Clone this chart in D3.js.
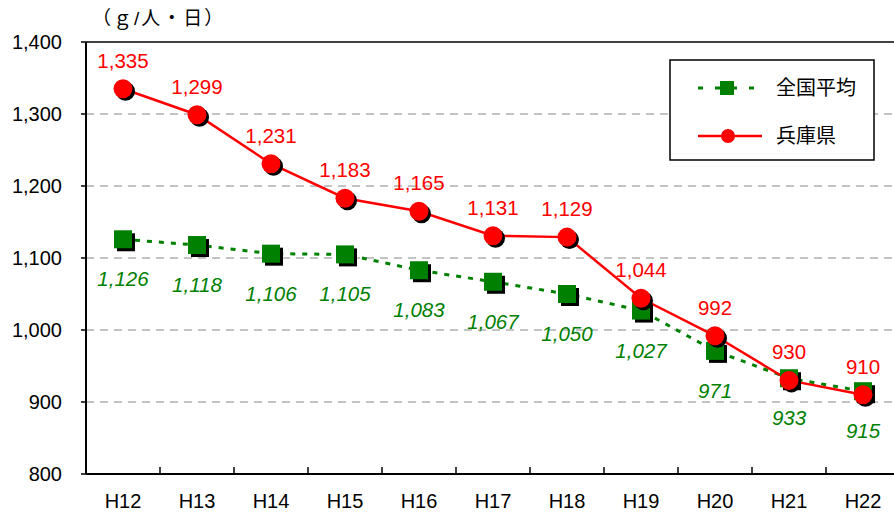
<!DOCTYPE html>
<html>
<head>
<meta charset="utf-8">
<script src="https://cdn.jsdelivr.net/npm/d3@7"></script>
<style>
  body { margin: 0; background: #fff; }
  svg text { font-family: "Liberation Sans", Arial, "Noto Sans CJK JP", sans-serif; }
</style>
</head>
<body>
<svg id="chart"></svg>
<script>
const years = ["H12", "H13", "H14", "H15", "H16", "H17", "H18", "H19", "H20", "H21", "H22"];
const national = [1126, 1118, 1106, 1105, 1083, 1067, 1050, 1027, 971, 933, 915];
const hyogo = [1335, 1299, 1231, 1183, 1165, 1131, 1129, 1044, 992, 930, 910];
const yTicks = [800, 900, 1000, 1100, 1200, 1300, 1400];

const W = 894, H = 518;
const margin = {top: 42, right: -6, bottom: 44, left: 86};
const width = W - margin.left - margin.right, height = H - margin.top - margin.bottom;

const svg = d3.select("#chart").attr("width", W).attr("height", H);
const g = svg.append("g").attr("transform", "translate(" + margin.left + "," + margin.top + ")");

const x = d3.scaleBand().domain(years).range([0, width]);
const y = d3.scaleLinear().domain([800, 1400]).range([height, 0]);
const cx = d => x(d) + x.bandwidth() / 2;

// gridlines
g.selectAll("line.grid").data(yTicks.filter(t => t > 800 && t < 1400)).enter()
  .append("line").attr("class", "grid")
  .attr("x1", 0).attr("x2", width)
  .attr("y1", d => y(d)).attr("y2", d => y(d))
  .attr("stroke", "#888").attr("stroke-width", 1).attr("stroke-dasharray", "8,6");

// frame top
g.append("line").attr("x1", 0).attr("x2", width).attr("y1", 0).attr("y2", 0)
  .attr("stroke", "#000").attr("stroke-width", 1.5);

// y axis
g.append("line").attr("x1", 0).attr("x2", 0).attr("y1", 0).attr("y2", height)
  .attr("stroke", "#000").attr("stroke-width", 2);
g.selectAll("line.ytick").data(yTicks).enter().append("line").attr("class", "ytick")
  .attr("x1", -5).attr("x2", 0).attr("y1", d => y(d)).attr("y2", d => y(d))
  .attr("stroke", "#000").attr("stroke-width", 1.5);
g.selectAll("text.ylab").data(yTicks).enter().append("text").attr("class", "ylab")
  .attr("x", -24).attr("y", d => y(d)).attr("dy", "0.36em")
  .attr("text-anchor", "end").attr("font-size", 20)
  .text(d => d3.format(",")(d));

// x axis
g.append("line").attr("x1", 0).attr("x2", width).attr("y1", height).attr("y2", height)
  .attr("stroke", "#000").attr("stroke-width", 2);
g.selectAll("line.xtick").data(years.slice(1)).enter().append("line").attr("class", "xtick")
  .attr("x1", d => x(d)).attr("x2", d => x(d)).attr("y1", height).attr("y2", height - 7)
  .attr("stroke", "#000").attr("stroke-width", 1.5);
g.selectAll("text.xlab").data(years).enter().append("text").attr("class", "xlab")
  .attr("x", d => cx(d)).attr("y", height + 34)
  .attr("text-anchor", "middle").attr("font-size", 20)
  .text(d => d);

// unit label
svg.append("text").attr("x", 92).attr("y", 25).attr("font-size", 19)
  .attr("letter-spacing", 2)
  .text("（ｇ/人・日）");

const line = d3.line().x((d, i) => cx(years[i])).y(d => y(d));

// national line
g.append("path").datum(national).attr("d", line)
  .attr("fill", "none").attr("stroke", "#008000").attr("stroke-width", 3)
  .attr("stroke-dasharray", "5,7");
// hyogo line
g.append("path").datum(hyogo).attr("d", line)
  .attr("fill", "none").attr("stroke", "#ff0000").attr("stroke-width", 2.5);

// national markers
national.forEach((v, i) => {
  const px = cx(years[i]), py = y(v);
  g.append("rect").attr("x", px - 9 + 3).attr("y", py - 9 + 3).attr("width", 18).attr("height", 18).attr("fill", "#000");
  g.append("rect").attr("x", px - 9).attr("y", py - 9).attr("width", 18).attr("height", 18).attr("fill", "#008000");
});
// hyogo markers
hyogo.forEach((v, i) => {
  const px = cx(years[i]), py = y(v);
  g.append("circle").attr("cx", px + 2.5).attr("cy", py + 2.5).attr("r", 9.5).attr("fill", "#000");
  g.append("circle").attr("cx", px).attr("cy", py).attr("r", 9.5).attr("fill", "#ff0000");
});

// labels
g.selectAll("text.hl").data(hyogo).enter().append("text").attr("class", "hl")
  .attr("x", (d, i) => cx(years[i])).attr("y", d => y(d) - 21)
  .attr("text-anchor", "middle").attr("font-size", 20.5).attr("fill", "#ff0000")
  .text(d => d3.format(",")(d));
g.selectAll("text.nl").data(national).enter().append("text").attr("class", "nl")
  .attr("x", (d, i) => cx(years[i])).attr("y", d => y(d) + 47)
  .attr("text-anchor", "middle").attr("font-size", 20.5).attr("font-style", "italic").attr("fill", "#008000")
  .text(d => d3.format(",")(d));

// legend
const lg = svg.append("g").attr("transform", "translate(670,60)");
lg.append("rect").attr("x", 0).attr("y", 0).attr("width", 204).attr("height", 100)
  .attr("fill", "#fff").attr("stroke", "#000").attr("stroke-width", 1.5);
lg.append("line").attr("x1", 28).attr("x2", 86).attr("y1", 28).attr("y2", 28)
  .attr("stroke", "#008000").attr("stroke-width", 3).attr("stroke-dasharray", "5,12");
lg.append("rect").attr("x", 50).attr("y", 21).attr("width", 14).attr("height", 14).attr("fill", "#008000");
lg.append("line").attr("x1", 28).attr("x2", 92).attr("y1", 76).attr("y2", 76)
  .attr("stroke", "#ff0000").attr("stroke-width", 2.5);
lg.append("circle").attr("cx", 58).attr("cy", 76).attr("r", 7).attr("fill", "#ff0000");
lg.append("text").attr("x", 106).attr("y", 35).attr("font-size", 20).text("全国平均");
lg.append("text").attr("x", 106).attr("y", 83).attr("font-size", 20).text("兵庫県");
</script>
</body>
</html>
